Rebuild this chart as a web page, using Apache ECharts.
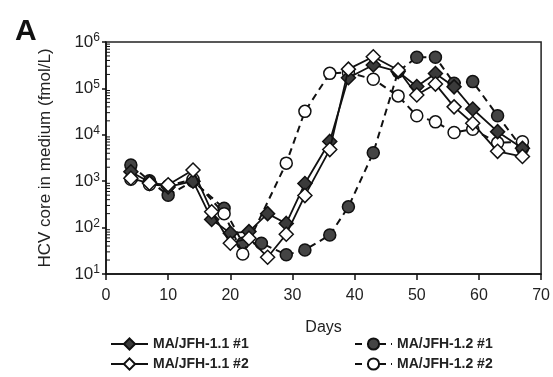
<!DOCTYPE html>
<html><head><meta charset="utf-8">
<script src="https://cdn.jsdelivr.net/npm/echarts@6/dist/echarts.min.js"></script>
<style>html,body{margin:0;padding:0;background:#fff}#c{width:553px;height:377px}</style>
</head><body><div id="c"></div>
<script>
const days11 = [4,7,10,14,17,20,23,26,29,32,36,39,43,47,50,53,56,59,63,67];
const ma11_1 = [1600,950,750,1000,150,76,82,200,123,890,7200,170000,320000,230000,110000,210000,108000,36000,11700,5100];
const ma11_2 = [1160,900,840,1740,220,46,59,23,72,490,4800,260000,480000,250000,72000,124000,40000,17700,4400,3400];
const days12 = [4,7,10,14,19,22,25,29,32,36,39,43,47,50,53,56,59,63,67];
const ma12_1 = [2240,1020,500,1000,260,46,46,26,33,69,280,4100,230000,470000,470000,129000,140000,25700,5100];
const ma12_2 = [1100,850,800,1100,200,27,null,2450,32000,211000,220000,157000,69000,25700,19000,11200,13200,6700,7100];
const xTicks = [0,10,20,30,40,50,60,70];
const yMin = 10, yMax = 1000000;
const names = ['MA/JFH-1.1 #1','MA/JFH-1.1 #2','MA/JFH-1.2 #1','MA/JFH-1.2 #2'];

function pairs(d, v){ return d.map((x,i)=>[x, v[i]]).filter(p=>p[1]!=null); }
const minorVals = [];
for (let e=1; e<6; e++) for (let m=2; m<10; m++) minorVals.push([0, m*Math.pow(10,e)]);

const chart = echarts.init(document.getElementById('c'));
const font = 'Liberation Sans, Arial, sans-serif';
const legPos = [[110,337],[110,357],[354,337],[354,357]];
const legTxt = {fontSize:14, fontWeight:'bold', color:'#222', fontFamily:font};
chart.setOption({
  animation:false,
  textStyle:{fontFamily:font},
  grid:{left:106, top:42, width:437, height:232, show:true, borderColor:'#222', borderWidth:1.5},
  title:{text:'A', left:10, top:12, textStyle:{fontSize:30, fontWeight:'bold', color:'#111', fontFamily:font}},
  xAxis:{type:'value', min:xTicks[0], max:xTicks[xTicks.length-1], interval:10,
    name:'Days', nameLocation:'middle', nameGap:46, nameTextStyle:{fontSize:16, color:'#222'},
    axisLine:{lineStyle:{color:'#111', width:1.5}}, axisTick:{length:6, lineStyle:{color:'#111', width:1.5}},
    axisLabel:{fontSize:16, color:'#222', margin:14}, splitLine:{show:false}},
  yAxis:{type:'log', min:yMin, max:yMax, logBase:10,
    name:'HCV core in medium (fmol/L)', nameLocation:'middle', nameGap:52, nameTextStyle:{fontSize:17, color:'#222'},
    axisLine:{lineStyle:{color:'#111', width:1.5}}, axisTick:{length:4, lineStyle:{color:'#111', width:1.5}},
    axisLabel:{margin:6, formatter:v=>'{b|10}{s|'+Math.round(Math.log10(v))+'}',
      rich:{b:{fontSize:17, color:'#222', fontFamily:font}, s:{fontSize:12, color:'#222', verticalAlign:'top', padding:[0,0,8,0], fontFamily:font}}},
    splitLine:{show:false}},
  legend: names.map((n,i)=>({data:[n], left:legPos[i][0], top:legPos[i][1], itemWidth:37, itemHeight:14,
      padding:0, textStyle:legTxt})),
  series:[
    {type:'custom', silent:true, clip:false, z:1, data:minorVals,
      renderItem:(p,api)=>{const c=api.coord([api.value(0),api.value(1)]);
        return {type:'line', shape:{x1:c[0], y1:c[1], x2:c[0]+4, y2:c[1]}, style:{stroke:'#111', lineWidth:1}};}},
    {name:names[2], type:'line', data:pairs(days12, ma12_1), symbol:'circle', symbolSize:12, z:2,
      lineStyle:{color:'#111', width:2, type:[7,5]}, itemStyle:{color:'#444', borderColor:'#111', borderWidth:1.5}},
    {name:names[3], type:'line', data:pairs(days12, ma12_2), symbol:'circle', symbolSize:12, z:3, connectNulls:true,
      lineStyle:{color:'#111', width:2, type:[7,5]}, itemStyle:{color:'#fff', borderColor:'#111', borderWidth:1.5}},
    {name:names[0], type:'line', data:pairs(days11, ma11_1), symbol:'diamond', symbolSize:14, z:4,
      lineStyle:{color:'#111', width:1.8}, itemStyle:{color:'#3a3a3a', borderColor:'#111', borderWidth:1.5}},
    {name:names[1], type:'line', data:pairs(days11, ma11_2), symbol:'diamond', symbolSize:14, z:5,
      lineStyle:{color:'#111', width:1.8}, itemStyle:{color:'#fff', borderColor:'#111', borderWidth:1.5}}
  ]
});
</script></body></html>
